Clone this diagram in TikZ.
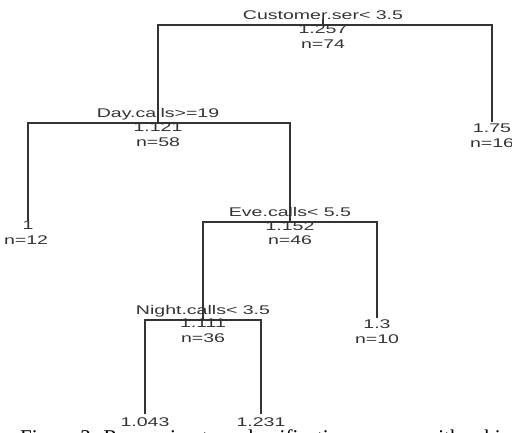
\documentclass[tikz,border=0pt]{standalone}
\usepackage{fontspec}
\newfontfamily\treefont[FakeStretch=1.55]{Liberation Sans}
\newfontfamily\capfont{Liberation Serif}

\begin{document}
\begin{tikzpicture}[x=1pt,y=-1pt,
  every node/.style={
    font=\treefont\fontsize{12.6}{15}\selectfont,
    text=black!80, inner sep=0pt, anchor=base
  },
  branch/.style={draw=black!80, line width=1.6pt},
  caption/.style={font=\capfont\fontsize{21}{24}\selectfont, text=black, anchor=base west}
]
\useasboundingbox (0,0) rectangle (512,433);
\clip (0,0) rectangle (512,433);

% split points
\coordinate (root)  at (323,25);
\coordinate (day)   at (158,123);
\coordinate (eve)   at (290,222);
\coordinate (night) at (203,320);
\coordinate (roottick) at (323,19);
% leaf ends
\coordinate (leafA) at (28,221);
\coordinate (leafB) at (492,122);
\coordinate (leafC) at (377,318);
\coordinate (leafD) at (145,414);
\coordinate (leafE) at (261,414);

% branches
\draw[branch] (day) |- (root) -| (leafB);
\draw[branch] (leafA) |- (day) -| (eve);
\draw[branch] (night) |- (eve) -| (leafC);
\draw[branch] (leafD) |- (night) -| (leafE);
\draw[branch] (root) -- (roottick);

% split nodes
\node (rootsplit) at (323,20) {Customer.ser< 3.5};
\node (rootmean)  at (323,34) {1.257};
\node (rootn)     at (323,49) {n=74};

\node (daysplit) at (158,118) {Day.calls>=19};
\node (daymean)  at (158,132) {1.121};
\node (dayn)     at (158,147) {n=58};

\node (evesplit) at (290,217) {Eve.calls< 5.5};
\node (evemean)  at (290,230) {1.152};
\node (even)     at (290,245) {n=46};

\node (nightsplit) at (203,314) {Night.calls< 3.5};
\node (nightmean)  at (203,327) {1.111};
\node (nightn)     at (203,342) {n=36};

% leaves
\node (leafAmean) at (28,229.5) {1};
\node (leafAn)    at (26,245) {n=12};
\node (leafBmean) at (492,132.5) {1.75};
\node (leafBn)    at (492,147.5) {n=16};
\node (leafCmean) at (377,328) {1.3};
\node (leafCn)    at (377,343) {n=10};
\node (leafDmean) at (145,426) {1.043};
\node (leafEmean) at (261,426) {1.231};

% caption, cut by the page edge
\node[caption] (figcap) at (20,444) {Figure 3: Regression tree classification process with achi};
\end{tikzpicture}
\end{document}
